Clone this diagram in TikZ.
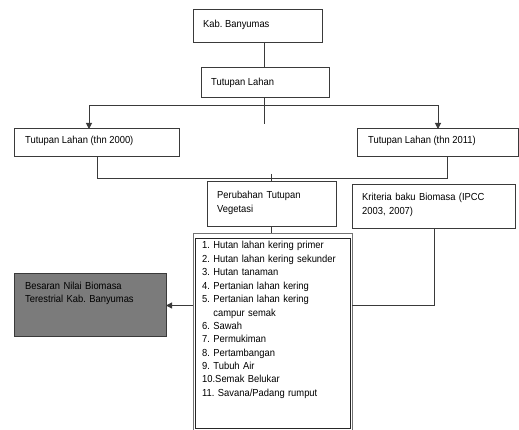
\documentclass[tikz,border=0pt]{standalone}
\usepackage{fontspec}
\setmainfont[FakeStretch=0.92]{Liberation Sans}
\usetikzlibrary{arrows.meta}
\definecolor{ln}{HTML}{3A3A3A}
\definecolor{bgray}{HTML}{7B7B7B}
\frenchspacing
\begin{document}
\begin{tikzpicture}[x=1pt,y=-1pt,
  box/.style={draw=ln, line width=1pt, rectangle, inner sep=0pt, outer sep=0pt, anchor=north west},
  txt/.style={anchor=base west, inner sep=0pt, font=\fontsize{10.2}{13.4}\selectfont, text=black},
  mtxt/.style={txt, text width=#1, align=left},
  line/.style={draw=ln, line width=1pt},
  arr/.style={line, -{Triangle[length=6pt,width=6pt]}}]
\useasboundingbox (0,0) rectangle (519,430);
% boxes
\node[box, minimum width=129pt, minimum height=33pt] (kab) at (193,10) {};
\node[txt] (kabt) at (203,28) {Kab. Banyumas};
\node[box, minimum width=128pt, minimum height=30pt] (tl) at (201,68) {};
\node[txt] (tlt) at (211,86) {Tutupan Lahan};
\node[box, minimum width=165pt, minimum height=28pt] (l2000) at (14,129) {};
\node[txt] (l2000t) at (25,143.5) {Tutupan Lahan (thn 2000)};
\node[box, minimum width=161pt, minimum height=28pt] (r2011) at (357,129) {};
\node[txt] (r2011t) at (368,143.5) {Tutupan Lahan (thn 2011)};
\node[box, minimum width=129pt, minimum height=45pt] (per) at (207,182) {};
\node[mtxt=115pt, font=\fontsize{10.2}{14}\selectfont] (pert) at (217,198.5) {Perubahan Tutupan\\Vegetasi};
\node[box, minimum width=163pt, minimum height=44pt] (krit) at (352,185) {};
\node[mtxt=150pt, font=\fontsize{10.2}{14}\selectfont] (kritt) at (362,201) {Kriteria baku Biomasa (IPCC\\2003, 2007)};
\node[box, fill=bgray, minimum width=152pt, minimum height=63pt] (bes) at (14,273) {};
\node[mtxt=140pt, font=\fontsize{10.2}{13.5}\selectfont] (best) at (25,289) {Besaran Nilai Biomasa\\Terestrial Kab. Banyumas};
\node[box, draw=black!55, line width=0.6pt, minimum width=159pt, minimum height=200pt] (lst) at (193,233) {};
\node[box, draw=black!85, line width=1pt, minimum width=155pt, minimum height=189pt] (lsti) at (195,239) {};
\node[mtxt=145pt] (lstt) at (202,249) {1. Hutan lahan kering primer\\
2. Hutan lahan kering sekunder\\
3. Hutan tanaman\\
4. Pertanian lahan kering\\
5. Pertanian lahan kering\\
\phantom{5. }campur semak\\
6. Sawah\\
7. Permukiman\\
8. Pertambangan\\
9. Tubuh Air\\
10.Semak Belukar\\
11. Savana/Padang rumput};
% helper coordinates
\coordinate (xA) at (264,0);
\coordinate (xL) at (89,0);
\coordinate (xR) at (438,0);
\coordinate (xLb) at (97,0);
\coordinate (xRb) at (447,0);
\coordinate (xM) at (271,0);
\coordinate (xK) at (434,0);
\coordinate (hz) at (0,106);
\coordinate (hb) at (0,179);
\coordinate (ay) at (0,305.5);
\coordinate (stub) at (264,124);
\coordinate (st2) at (271,174);
% connectors
\draw[line] (kab.south -| xA) -- (tl.north -| xA);
\draw[line] (tl.south -| xA) -- (stub);
\draw[arr] (hz -| xA) -| (l2000.north -| xL);
\draw[arr] (hz -| xA) -| (r2011.north -| xR);
\draw[line] (l2000.south -| xLb) |- (hb -| xM);
\draw[line] (r2011.south -| xRb) |- (hb -| xM);
\draw[line] (st2) -- (per.north -| xM);
\draw[line] (per.south -| xM) -- (lst.north -| xM);
\draw[line] (krit.south -| xK) |- (ay -| lst.east);
\draw[arr] (ay -| lst.west) -- (ay -| bes.east);
\end{tikzpicture}
\end{document}
